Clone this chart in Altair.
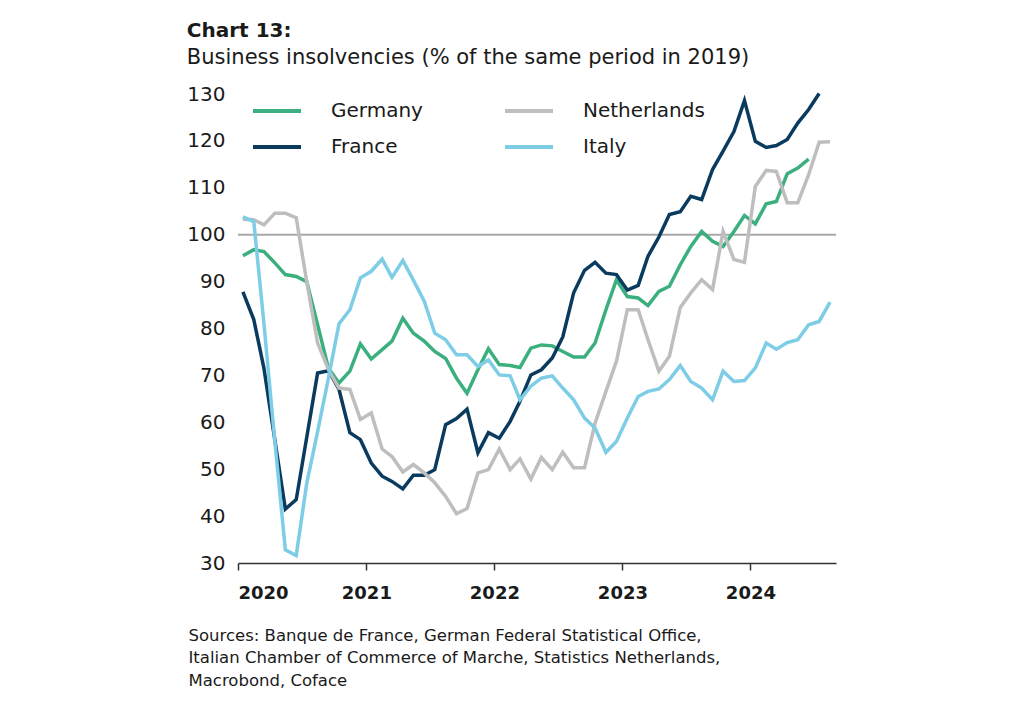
import altair as alt
import pandas as pd

countries = ["Germany", "France", "Netherlands", "Italy"]
colors = ["#3BAF7E", "#0B3A5F", "#BEBEBE", "#7ECDE6"]

germany = [95.5, 96.8, 96.4, 94.0, 91.5, 91.1, 90.0, 80.8, 71.5, 68.4, 70.9, 76.7,
           73.5, 75.5, 77.3, 82.2, 79.0, 77.3, 75.1, 73.6, 69.4, 66.2, 71.2, 75.7,
           72.3, 72.1, 71.7, 75.8, 76.5, 76.3, 75.1, 73.9, 73.9, 76.9, 84.0, 90.4,
           86.8, 86.5, 84.9, 87.9, 89.0, 93.6, 97.5, 100.7, 98.6, 97.5, 100.7, 104.1,
           102.3, 106.6, 107.1, 113.0, 114.2, 116.1]
france = [87.8, 81.9, 71.5, 56.3, 41.5, 43.5, 56.8, 70.5, 71.0, 67.0, 57.8, 56.3,
          51.3, 48.5, 47.4, 45.8, 48.7, 48.7, 49.9, 59.5, 60.8, 62.8, 53.5, 57.8,
          56.6, 60.2, 64.5, 70.1, 71.2, 73.7, 78.2, 87.6, 92.4, 94.1, 91.8, 91.5,
          88.2, 89.2, 95.4, 99.5, 104.3, 104.9, 108.2, 107.5, 113.9, 117.8, 122.0, 128.6,
          119.9, 118.6, 119.0, 120.3, 123.8, 126.7, 130.1]
netherlands = [103.3, 103.2, 102.1, 104.6, 104.6, 103.6, 90.0, 76.9, 71.2, 67.3, 67.0, 60.6,
               62.0, 54.3, 52.7, 49.4, 51.0, 49.2, 47.1, 44.2, 40.5, 41.6, 49.2, 49.9,
               54.3, 49.9, 52.2, 47.9, 52.5, 49.9, 53.6, 50.3, 50.3, 59.8, 66.6, 73.0,
               84.0, 84.0, 77.6, 70.9, 74.1, 84.5, 87.6, 90.4, 88.3, 100.7, 94.7, 94.1,
               110.3, 113.7, 113.5, 106.8, 106.8, 112.8, 119.7, 119.8]
italy = [103.8, 102.8, 81.0, 56.0, 32.8, 31.6, 47.0, 58.0, 69.5, 81.0, 84.0, 90.8,
         92.2, 94.8, 90.9, 94.5, 90.3, 85.8, 79.0, 77.6, 74.4, 74.4, 71.9, 73.3,
         70.1, 69.9, 64.8, 67.7, 69.4, 69.9, 67.3, 64.8, 60.9, 58.8, 53.6, 55.9,
         60.9, 65.5, 66.6, 67.1, 69.1, 72.1, 68.7, 67.3, 64.8, 70.9, 68.7, 68.9,
         71.6, 76.9, 75.6, 77.0, 77.6, 80.8, 81.5, 85.6]

sources = ["Sources: Banque de France, German Federal Statistical Office,",
           "Italian Chamber of Commerce of Marche, Statistics Netherlands,",
           "Macrobond, Coface"]

series = {"Germany": germany, "France": france, "Netherlands": netherlands, "Italy": italy}
months = pd.date_range("2020-01-01", periods=60, freq="MS") + pd.Timedelta(days=14)
rows = []
for name, vals in series.items():
    for i, v in enumerate(vals):
        rows.append({"date": months[i], "country": name, "value": v})
df = pd.DataFrame(rows)

FONT = "DejaVu Sans"
y_scale = alt.Scale(domain=[30, 130])

x_enc = alt.X("date:T",
              scale=alt.Scale(domain=["2020-01-01", "2024-09-01"]),
              axis=alt.Axis(format="%Y", tickCount={"interval": "year", "step": 1},
                            grid=False, labelFontWeight="bold", labelFontSize=18,
                            labelColor="#1a1a1a", domainColor="#333333", domainWidth=1.5,
                            tickColor="#333333", tickWidth=1.5, tickSize=7, labelPadding=14,
                            title=sources, titleFontSize=16.5, titleFontWeight="normal",
                            titleColor="#1a1a1a", titleAlign="left", titleAnchor="start",
                            titleBaseline="alphabetic", titleX=-50, titleY=77,
                            titleLineHeight=22.5))

lines = alt.Chart(df).mark_line(strokeWidth=3.5).encode(
    x=x_enc,
    y=alt.Y("value:Q", scale=y_scale,
            axis=alt.Axis(values=list(range(30, 131, 10)), grid=False, domain=False,
                          ticks=False, labelFontSize=20, labelColor="#1a1a1a",
                          labelPadding=13, title=None)),
    color=alt.Color("country:N", sort=countries,
                    scale=alt.Scale(domain=countries, range=colors),
                    legend=alt.Legend(title=None, orient="none", legendX=13, legendY=-9,
                                      columns=2, symbolType="stroke", symbolSize=2304,
                                      symbolStrokeWidth=4, labelFontSize=20,
                                      labelOffset=28, columnPadding=74, rowPadding=-24,
                                      labelColor="#1a1a1a")),
)

ref_df = pd.DataFrame({"y": [100]})
rule = alt.Chart(ref_df).mark_rule(color="#A8A8A8", strokeWidth=2).encode(
    y=alt.Y("y:Q", scale=y_scale))

chart = alt.layer(rule, lines).properties(
    width=598, height=469,
    padding={"left": 186, "top": 21, "right": 5, "bottom": 5},
    title=alt.TitleParams(text="Chart 13:", subtitle="Business insolvencies (% of the same period in 2019)",
                          anchor="start", frame="bounds", fontSize=20, fontWeight=600,
                          subtitleFontSize=21, color="#1a1a1a", subtitleColor="#1a1a1a",
                          subtitlePadding=6, offset=16, font=FONT, subtitleFont=FONT),
).configure(font=FONT).configure_view(stroke=None)

chart.save("out.html", embed_options={"renderer": "svg", "actions": False})
